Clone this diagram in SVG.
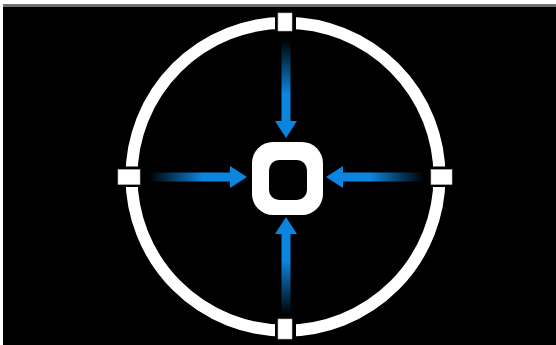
<svg xmlns="http://www.w3.org/2000/svg" xmlns:xlink="http://www.w3.org/1999/xlink" width="556" height="345" viewBox="0 0 556 345">
  <style>
    .ring { fill: none; stroke: #ffffff; stroke-width: 12; }
    .gap { fill: #000000; }
    .tick { fill: #ffffff; stroke: #bbbbbb; stroke-width: 0.6; }
    .head { fill: #0b86e0; }
  </style>
  <defs>
    <linearGradient id="shaft" x1="0" y1="0" x2="1" y2="0">
      <stop offset="0" stop-color="#0b86e0" stop-opacity="0"/>
      <stop offset="0.65" stop-color="#0b86e0" stop-opacity="1"/>
      <stop offset="1" stop-color="#0b86e0" stop-opacity="1"/>
    </linearGradient>
    <g id="arrow">
      <rect x="-137" y="-4.5" width="83" height="9" fill="url(#shaft)"/>
      <polygon class="head" points="-56,-11 -39,0 -56,11"/>
    </g>
  </defs>

  <g id="background">
    <rect x="0" y="0" width="556" height="345" fill="#ffffff"/>
    <rect x="3" y="4.5" width="553" height="340.5" fill="#000000"/>
    <rect x="3" y="4.5" width="553" height="2.5" fill="#6e6e6e"/>
  </g>

  <g id="ring">
    <circle class="ring" cx="285.5" cy="176.7" r="154"/>
    <rect class="gap" x="275" y="12" width="21" height="26"/>
    <rect class="gap" x="275" y="316" width="21" height="26"/>
    <rect class="gap" x="115" y="166.5" width="28" height="20.5"/>
    <rect class="gap" x="428" y="166.5" width="28" height="20.5"/>
  </g>

  <g id="tick-top"><rect class="tick" x="278" y="13" width="14" height="18"/></g>
  <g id="tick-bottom"><rect class="tick" x="278" y="319" width="14" height="20"/></g>
  <g id="tick-left"><rect class="tick" x="118" y="169.5" width="22" height="15"/></g>
  <g id="tick-right"><rect class="tick" x="431" y="169.5" width="21" height="15"/></g>

  <g id="connectors">
    <use xlink:href="#arrow" transform="translate(286,177)"/>
    <use xlink:href="#arrow" transform="translate(286,177) rotate(90)"/>
    <use xlink:href="#arrow" transform="translate(287,177) rotate(180)"/>
    <use xlink:href="#arrow" transform="translate(286,178) rotate(270)"/>
  </g>

  <g id="center">
    <rect x="252" y="142" width="71" height="73" rx="21" fill="#ffffff"/>
    <rect x="269" y="160" width="38" height="40" rx="10" fill="#000000"/>
  </g>
</svg>
